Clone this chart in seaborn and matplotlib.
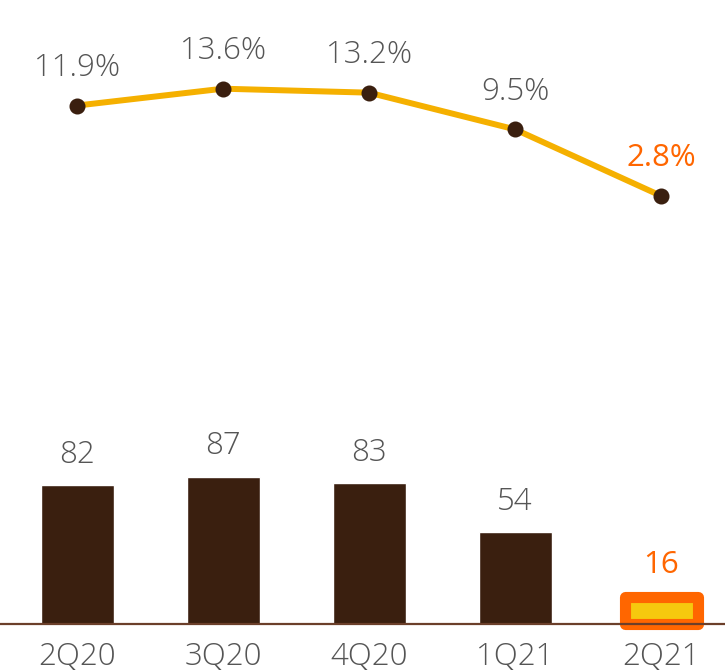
import matplotlib
matplotlib.use("Agg")
import matplotlib.pyplot as plt
import seaborn as sns
import pandas as pd

# Quarterly figures
quarters = ["2Q20", "3Q20", "4Q20", "1Q21", "2Q21"]
profit = [82, 87, 83, 54, 16]
roe = [11.9, 13.6, 13.2, 9.5, 2.8]
roe_labels = ["11.9%", "13.6%", "13.2%", "9.5%", "2.8%"]

BROWN = "#3a1f0f"
BASE = "#6b3f2a"
GOLD = "#f5b000"
ORANGE = "#ff6600"
YELLOW = "#f6c90e"
GREY = "#555555"

sns.set_theme(style="white")
plt.rcParams["font.family"] = ["Open Sans", "DejaVu Sans"]
plt.rcParams["font.weight"] = "light"

DPI = 100
W, H = 725, 672
fig = plt.figure(figsize=(W / DPI, H / DPI), dpi=DPI)

# Axes spans the full width; its bottom edge is the baseline of the bars
base_px = 624
ax = fig.add_axes([0, (H - base_px) / H, 1, base_px / H])

df = pd.DataFrame({"quarter": quarters, "profit": profit, "roe": roe})
sns.barplot(data=df, x="quarter", y="profit", color=BROWN, width=0.5,
            saturation=1, ax=ax, zorder=2)

# Highlight the latest quarter
last = ax.patches[-1]
last.set_facecolor(YELLOW)
last.set_edgecolor(ORANGE)
last.set_linewidth(8)
last.set_joinstyle("round")
last.set_clip_on(False)

px_per_unit = 1.695
ax.set_ylim(0, base_px / px_per_unit)
xlim = (-77 / 146, (W - 77) / 146)
ax.set_xlim(*xlim)
ax.axhline(0, color=BASE, lw=1.6, zorder=5, clip_on=False)

FS = 22.5
for i, v in enumerate(profit):
    hl = i == len(profit) - 1
    ax.annotate(str(v), (i, v), xytext=(0, 17 if hl else 16), textcoords="offset points",
                ha="center", va="baseline", fontsize=FS,
                fontweight="normal" if hl else "light",
                color=ORANGE if hl else GREY)

# Return line on a twin scale
ax2 = ax.twinx()
sns.pointplot(data=df, x="quarter", y="roe", color=GOLD, markers="o",
              errorbar=None, ax=ax2)
for ln in ax2.lines:
    ln.set_linewidth(4.3)
    ln.set_markersize(9.5)
    ln.set_markerfacecolor(BROWN)
    ln.set_markeredgecolor(BROWN)
    ln.set_zorder(3)
ax2.set_ylim(-40.36, 22.54)
ax2.set_xlim(*xlim)

for i, (v, lab) in enumerate(zip(roe, roe_labels)):
    hl = i == len(roe) - 1
    ax2.annotate(lab, (i, v), xytext=(0, 21.5), textcoords="offset points",
                 ha="center", va="baseline", fontsize=FS,
                 fontweight="normal" if hl else "light",
                 color=ORANGE if hl else GREY)

for a in (ax, ax2):
    a.set_xlabel("")
    a.set_ylabel("")
    a.set_yticks([])
    for s in a.spines.values():
        s.set_visible(False)
    a.patch.set_visible(False)

ax.tick_params(axis="x", length=0, pad=12.5, labelsize=FS, labelcolor=GREY)
for t in ax.get_xticklabels():
    t.set_fontweight("light")
ax2.tick_params(axis="x", length=0, labelbottom=False)

fig.savefig("out.png", dpi=DPI)
